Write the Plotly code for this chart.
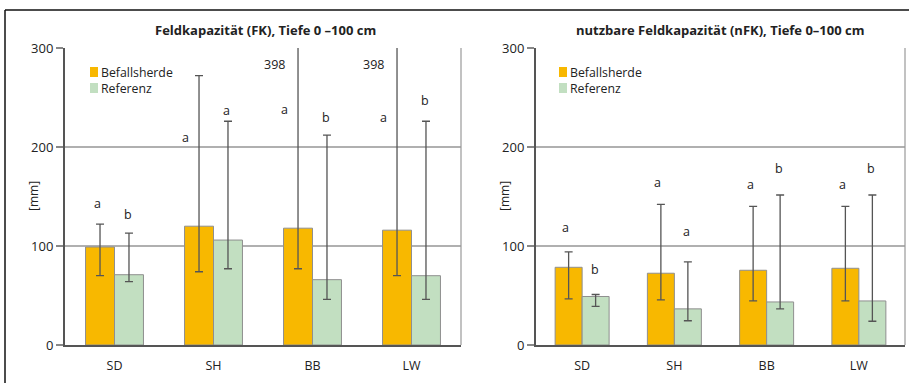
import plotly.graph_objects as go

W, H = 909, 383

categories = ["SD", "SH", "BB", "LW"]
series_names = ["Befallsherde", "Referenz"]

# Left panel: Feldkapazität (FK)
fk_befall = [99, 120, 118, 116]
fk_befall_low = [70, 74, 77, 70]
fk_befall_high = [122, 272, 398, 398]
fk_ref = [71, 106, 66, 70]
fk_ref_low = [64, 77, 46, 46]
fk_ref_high = [113, 226, 212, 226]
fk_letters_befall = ["a", "a", "a", "a"]
fk_letters_ref = ["b", "a", "b", "b"]
fk_letter_y_befall = [143, 210, 238, 230]
fk_letter_y_ref = [132, 237, 230, 247]
fk_beside_line = [False, True, True, True]

# Right panel: nutzbare Feldkapazität (nFK)
nfk_befall = [78.5, 72.5, 75.5, 77.5]
nfk_befall_low = [46.5, 45.5, 44.5, 44.5]
nfk_befall_high = [94, 142, 140, 140]
nfk_ref = [49, 36.5, 43.5, 44.5]
nfk_ref_low = [39, 24.5, 36.5, 24]
nfk_ref_high = [51, 84, 151.5, 151.5]
nfk_letters_befall = ["a", "a", "a", "a"]
nfk_letters_ref = ["b", "a", "b", "b"]
nfk_letter_y_befall = [118.5, 164, 162.5, 162.5]
nfk_letter_y_ref = [76, 115, 178, 178]

ORANGE = "#F8B800"
GREEN = "#C2DFC1"
EDGE = "#8f8f8f"
ERR = "#555555"
TXT = "#222222"
FONT = "Open Sans"

fig = go.Figure()


def px_x(p):
    return p / W


def px_y(p):
    return 1 - p / H


panels = [
    dict(xa="x", ya="y", dom=[px_x(65), px_x(461)], gap=0.42,
         b=fk_befall, bl=fk_befall_low, bh=fk_befall_high,
         r=fk_ref, rl=fk_ref_low, rh=fk_ref_high,
         lb=fk_letters_befall, lr=fk_letters_ref,
         yb=fk_letter_y_befall, yr=fk_letter_y_ref,
         beside=fk_beside_line,
         title="Feldkapazität (FK), Tiefe 0 –100 cm", tx=265, mmx=33, legx=90),
    dict(xa="x2", ya="y2", dom=[px_x(536), px_x(905)], gap=0.41,
         b=nfk_befall, bl=nfk_befall_low, bh=nfk_befall_high,
         r=nfk_ref, rl=nfk_ref_low, rh=nfk_ref_high,
         lb=nfk_letters_befall, lr=nfk_letters_ref,
         yb=nfk_letter_y_befall, yr=nfk_letter_y_ref,
         beside=[False] * 4,
         title="nutzbare Feldkapazität (nFK), Tiefe 0–100 cm", tx=720, mmx=504, legx=559),
]

annotations = []
shapes = []
for p in panels:
    for name, vals, lo, hi, col in [
        (series_names[0], p["b"], p["bl"], p["bh"], ORANGE),
        (series_names[1], p["r"], p["rl"], p["rh"], GREEN),
    ]:
        fig.add_trace(go.Bar(
            x=categories, y=vals, name=name, xaxis=p["xa"], yaxis=p["ya"],
            showlegend=False,
            marker=dict(color=col, line=dict(color=EDGE, width=1)),
            error_y=dict(type="data", symmetric=False,
                         array=[h - v for h, v in zip(hi, vals)],
                         arrayminus=[v - l for v, l in zip(vals, lo)],
                         color=ERR, thickness=1.3, width=4),
            hoverinfo="skip",
        ))
    bw = (1 - p["gap"]) / 2
    for i in range(len(categories)):
        annotations.append(dict(
            x=i - bw / 2, y=p["yb"][i], xref=p["xa"], yref=p["ya"],
            xanchor="center", yanchor="middle",
            text=p["lb"][i], showarrow=False, xshift=-14 if p["beside"][i] else -3,
            font=dict(family=FONT, size=12.5, color=TXT)))
        annotations.append(dict(
            x=i + bw / 2, y=p["yr"][i], xref=p["xa"], yref=p["ya"],
            xanchor="center", yanchor="middle",
            text=p["lr"][i], showarrow=False, xshift=-1,
            font=dict(family=FONT, size=12.5, color=TXT)))
        if p["bh"][i] > 300:
            annotations.append(dict(
                x=i - bw / 2, y=283, xref=p["xa"], yref=p["ya"],
                text=str(p["bh"][i]), showarrow=False, xshift=-11,
                xanchor="right", yanchor="middle",
                font=dict(family=FONT, size=12.5, color=TXT)))
    annotations.append(dict(
        x=px_x(p["tx"]), y=px_y(30), xref="paper", yref="paper",
        xanchor="center", yanchor="middle",
        text="<b>" + p["title"] + "</b>", showarrow=False,
        font=dict(family=FONT, size=13, color=TXT)))
    annotations.append(dict(
        x=px_x(p["mmx"]), y=px_y(196), xref="paper", yref="paper",
        xanchor="center", yanchor="middle",
        text="[mm]", textangle=-90, showarrow=False,
        font=dict(family=FONT, size=12, color=TXT)))
    # legend (swatch + label)
    for k, (name, col) in enumerate(zip(series_names, [ORANGE, GREEN])):
        yc = 72 + 16 * k
        shapes.append(dict(type="rect", xref="paper", yref="paper",
                           x0=px_x(p["legx"]), x1=px_x(p["legx"] + 8),
                           y0=px_y(yc + 5), y1=px_y(yc - 5),
                           fillcolor=col, line=dict(width=0)))
        annotations.append(dict(
            x=px_x(p["legx"] + 10), y=px_y(yc), xref="paper", yref="paper",
            xanchor="left", yanchor="middle", text=name, showarrow=False,
            borderpad=0,
            font=dict(family=FONT, size=12.3, color=TXT)))

axis_common = dict(
    range=[0, 300], tickvals=[0, 100, 200, 300], showgrid=True,
    gridcolor="#b0b0b0", gridwidth=1.2, showline=True, linecolor="#555",
    linewidth=2, ticks="outside", ticklen=7, tickcolor="#888", tickwidth=1.2,
    tickfont=dict(family=FONT, size=13, color=TXT), zeroline=False,
    fixedrange=True, automargin=False,
)
xaxis_common = dict(
    showline=True, linecolor="#555", linewidth=2,
    ticks="outside", ticklen=8, tickcolor="rgba(0,0,0,0)",
    tickfont=dict(family=FONT, size=12.5, color=TXT), range=[-0.5, 3.5],
    fixedrange=True, automargin=False,
)

ydom = [px_y(345), px_y(48)]

shapes += [
    dict(type="line", xref="paper", yref="paper", x0=px_x(5), x1=1,
         y0=px_y(10), y1=px_y(10), line=dict(color="#111", width=1.5)),
    dict(type="line", xref="paper", yref="paper", x0=px_x(5), x1=px_x(5),
         y0=0, y1=px_y(10), line=dict(color="#111", width=1.5)),
    dict(type="line", xref="paper", yref="paper", x0=px_x(461), x1=px_x(461),
         y0=px_y(345), y1=px_y(48), line=dict(color="#999", width=1.2)),
    dict(type="line", xref="paper", yref="paper", x0=px_x(905), x1=px_x(905),
         y0=px_y(345), y1=px_y(48), line=dict(color="#999", width=1.2)),
]

fig.update_layout(
    width=W, height=H, margin=dict(l=0, r=0, t=0, b=0, pad=0, autoexpand=False),
    paper_bgcolor="white", plot_bgcolor="white",
    barmode="group", bargap=0.415, bargroupgap=0,
    xaxis=dict(domain=panels[0]["dom"], anchor="y", **xaxis_common),
    xaxis2=dict(domain=panels[1]["dom"], anchor="y2", **xaxis_common),
    yaxis=dict(domain=ydom, anchor="x", **axis_common),
    yaxis2=dict(domain=ydom, anchor="x2", **axis_common),
    annotations=annotations,
    shapes=shapes,
    showlegend=False,
)

fig.write_html(
    "out.html",
    config={"displayModeBar": False, "staticPlot": True},
    post_script="document.body.style.margin='0';document.body.style.overflow='hidden';",
)
